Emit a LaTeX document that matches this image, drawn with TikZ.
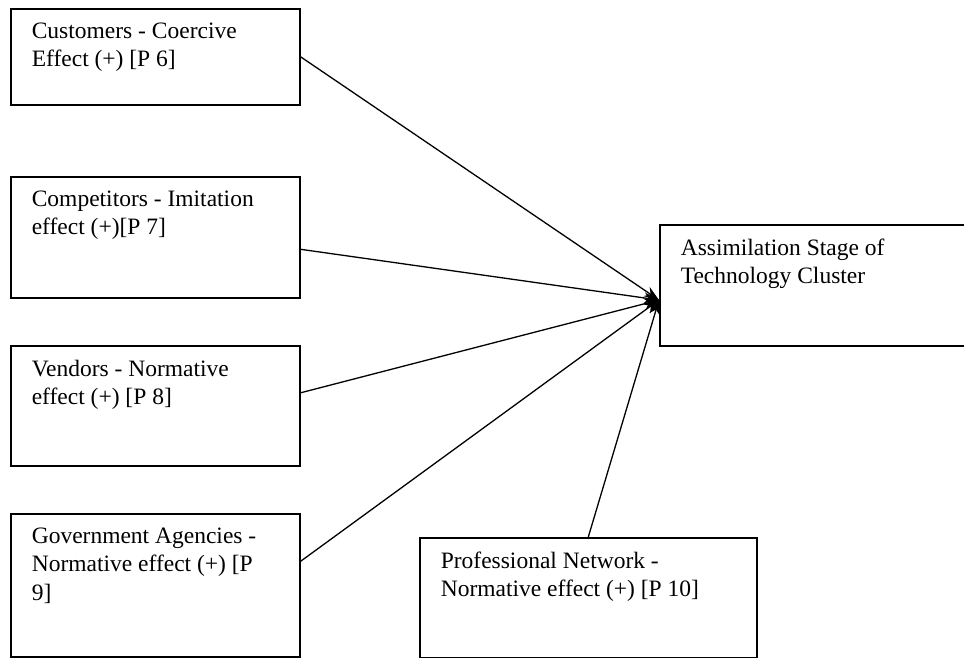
\documentclass[tikz,border=0pt]{standalone}
\usepackage{fontspec}
\setmainfont{Liberation Serif}
\usetikzlibrary{arrows.meta}

\newcommand{\boxtext}[3]{\parbox[t][#2][t]{#1}{\raggedright #3}}

\tikzset{
  factor/.style={draw, line width=1.6pt, anchor=north west, inner xsep=21pt, inner ysep=14pt,
    font=\fontsize{23.5}{28.5}\selectfont},
  link/.style={->, line width=1.3pt},
}

\begin{document}
\begin{tikzpicture}[x=1pt, y=-1pt, >={Stealth[length=15pt, width=11pt]}]
    \useasboundingbox (0,0) rectangle (964,658);
    % Nodes
    \node[factor] (cust)   at (10,8)    {\boxtext{247pt}{68pt}{Customers - Coercive\\Effect (+) [P 6]}};
    \node[factor] (comp)   at (10,176)  {\boxtext{247pt}{93pt}{Competitors - Imitation\\effect (+)[P 7]}};
    \node[factor] (vend)   at (10,345)  {\boxtext{247pt}{92pt}{Vendors - Normative\\effect (+) [P 8]}};
    \node[factor] (gov)    at (10,513)  {\boxtext{247pt}{115pt}{Government Agencies -\\Normative effect (+) [P\\9]}};
    \node[factor] (prof)   at (419,537) {\boxtext{295pt}{92pt}{Professional Network -\\Normative effect (+) [P 10]}};
    \node[factor] (assim)  at (659,224) {\boxtext{270pt}{93pt}{Assimilation Stage of\\Technology Cluster}};
    % Arrows into the assimilation stage
    \coordinate (hub) at (659,300);
    \draw[link] (cust.east) -- (hub);
    \draw[link] ([yshift=-12pt]comp.east) -- (hub);
    \draw[link] ([yshift=13pt]vend.east) -- (hub);
    \draw[link] ([yshift=24pt]gov.east) -- (hub);
    \draw[link] (prof.north) -- (hub);
\end{tikzpicture}
\end{document}
